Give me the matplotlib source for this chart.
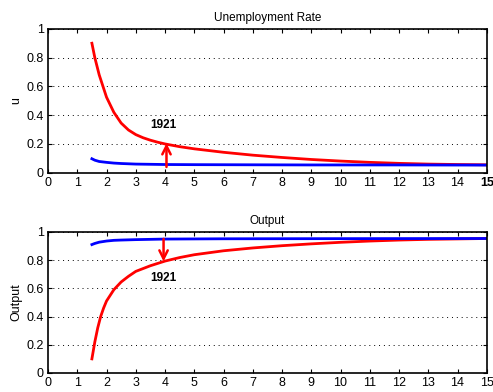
import numpy as np
import matplotlib
matplotlib.use("Agg")
import matplotlib.pyplot as plt

plt.rcParams['font.family'] = ['Liberation Sans', 'DejaVu Sans']

# unemployment rate
u_red_x = [1.5, 1.6, 1.75, 2, 2.25, 2.5, 2.75, 3, 3.25, 3.5, 3.75, 4, 4.5, 5,
           6, 7, 8, 9, 10, 11, 12, 13, 14, 15]
u_red_y = [0.90, 0.80, 0.68, 0.525, 0.42, 0.345, 0.297, 0.265, 0.243, 0.226, 0.212, 0.20, 0.181,
           0.166, 0.142, 0.122, 0.106, 0.092, 0.081, 0.072, 0.065, 0.06, 0.057, 0.055]
u_blue_x = [1.5, 1.6, 1.75, 2, 2.25, 2.5, 3, 4, 5, 7, 9, 12, 15]
u_blue_y = [0.097, 0.087, 0.078, 0.072, 0.067, 0.064, 0.06, 0.057, 0.056, 0.055, 0.054, 0.054, 0.053]

# output
y_red_x = [1.5, 1.6, 1.7, 1.8, 1.9, 2, 2.25, 2.5, 2.75, 3, 3.5, 4, 4.5, 5,
           6, 7, 8, 9, 10, 11, 12, 13, 14, 15]
y_red_y = [0.10, 0.22, 0.32, 0.40, 0.46, 0.51, 0.59, 0.645, 0.685, 0.72, 0.76, 0.793, 0.818, 0.838,
           0.866, 0.886, 0.902, 0.915, 0.926, 0.935, 0.942, 0.947, 0.95, 0.953]
y_blue_x = [1.5, 1.6, 1.75, 2, 2.25, 2.5, 3, 4, 6, 10, 15]
y_blue_y = [0.91, 0.918, 0.927, 0.935, 0.94, 0.942, 0.945, 0.949, 0.951, 0.952, 0.953]

year = 4.0
label = '1921'

fig = plt.figure(figsize=(4.93, 3.92), dpi=100)
ax1 = fig.add_axes([0.0974, 0.5594, 0.890, 0.367])
ax2 = fig.add_axes([0.0974, 0.0485, 0.890, 0.360])

def style(ax, title, ylab):
    ax.set_xlim(0, 15)
    ax.set_ylim(0, 1)
    ax.set_xticks(range(16))
    ax.set_yticks([0, 0.2, 0.4, 0.6, 0.8, 1])
    ax.set_yticklabels(['0', '0.2', '0.4', '0.6', '0.8', '1'])
    ax.tick_params(direction='in', top=True, right=True, labelsize=9, length=3, width=0.8, pad=3)
    ax.yaxis.grid(True, linestyle=(0, (1, 4)), color='black', linewidth=0.7)
    ax.set_title(title, fontsize=8.5, pad=6)
    ax.set_ylabel(ylab, fontsize=9, labelpad=3)
    for s in ax.spines.values():
        s.set_linewidth(1.2)

arrow = dict(arrowstyle='->,head_length=0.6,head_width=0.3', color='red', lw=1.8,
             shrinkA=0, shrinkB=0)

style(ax1, 'Unemployment Rate', 'u')
ax1.plot(u_red_x, u_red_y, color='red', lw=2.0)
ax1.plot(u_blue_x, u_blue_y, color='blue', lw=2.0)
ax1.annotate('', xy=(year + 0.05, 0.205), xytext=(year + 0.05, 0.04), arrowprops=arrow)
ax1.text(year - 0.05, 0.33, label, fontsize=8.5, fontweight='bold', ha='center', va='center')
ax1.get_xticklabels()[-1].set_fontweight('bold')

style(ax2, 'Output', 'Output')
ax2.plot(y_red_x, y_red_y, color='red', lw=2.0)
ax2.plot(y_blue_x, y_blue_y, color='blue', lw=2.0)
ax2.annotate('', xy=(year - 0.05, 0.79), xytext=(year - 0.05, 0.95), arrowprops=arrow)
ax2.text(year - 0.05, 0.67, label, fontsize=8.5, fontweight='bold', ha='center', va='center')

fig.savefig('out.png', dpi=100)
